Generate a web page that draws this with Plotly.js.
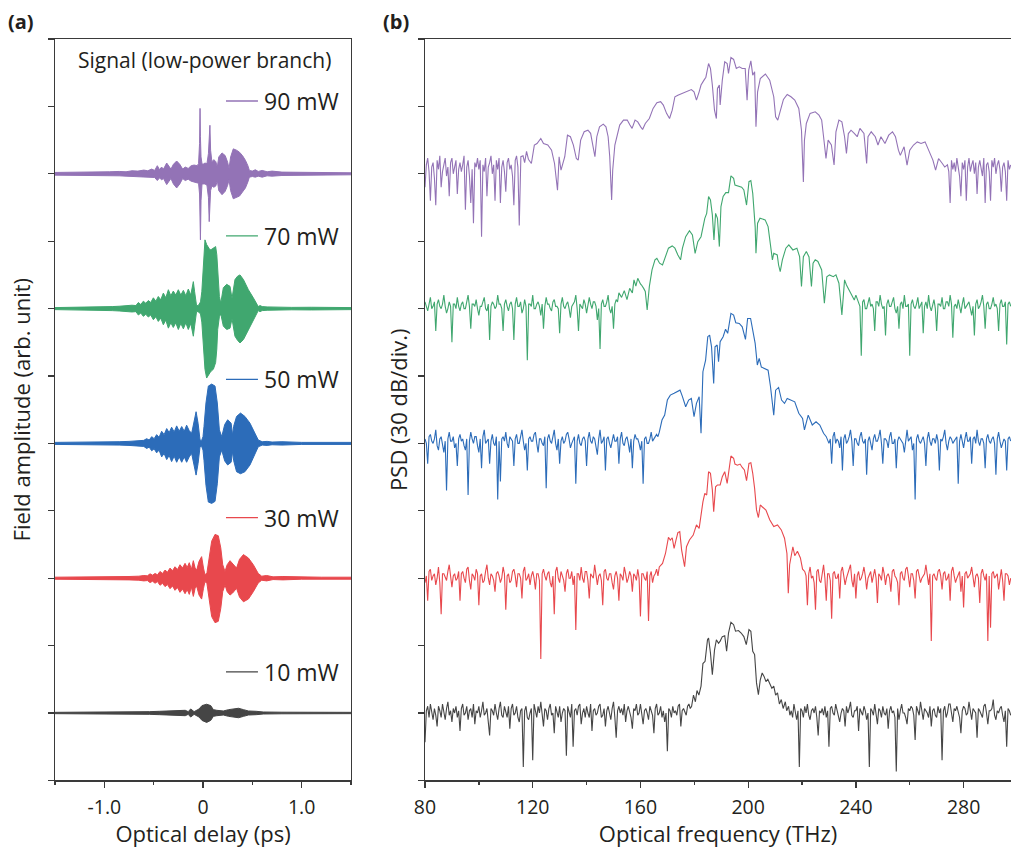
<!DOCTYPE html>
<html><head><meta charset="utf-8">
<script src="https://cdn.plot.ly/plotly-3.0.1.min.js"></script>
<style>html,body{margin:0;padding:0;background:#fff;overflow:hidden}</style>
</head><body><div id="chart" style="width:1011px;height:848px"></div>
<script>
// ---------- Panel (a): field amplitude envelopes (delay in ps, amplitude in tick-divisions) ----------
const powers = ['10 mW','30 mW','50 mW','70 mW','90 mW'];
const colors = ['#454545','#e8484d','#2c6cb9','#40a76f','#9373b6'];

const t10 = [-1.50,-1.10,-0.80,-0.64,-0.54,-0.44,-0.33,-0.23,-0.18,-0.15,-0.125,-0.09,-0.06,-0.04,-0.01,0.037,0.078,0.105,0.14,0.206,0.26,0.31,0.36,0.41,0.46,0.54,0.61,0.80,1.10,1.50];
const up10 = [0.01,0.01,0.012,0.015,0.02,0.025,0.03,0.035,0.04,0.02,0.06,0.02,0.04,0.06,0.11,0.13,0.11,0.05,0.04,0.03,0.05,0.065,0.07,0.05,0.03,0.025,0.015,0.012,0.01,0.01];
const lo10 = [0.01,0.01,0.012,0.015,0.02,0.025,0.03,0.035,0.04,0.02,0.06,0.02,0.04,0.06,0.11,0.14,0.11,0.05,0.04,0.03,0.05,0.065,0.07,0.05,0.03,0.025,0.015,0.012,0.01,0.01];

const t30 = [-1.50,-1.20,-0.90,-0.75,-0.65,-0.60,-0.563,-0.537,-0.511,-0.486,-0.461,-0.436,-0.41,-0.385,-0.36,-0.334,-0.309,-0.284,-0.258,-0.233,-0.208,-0.182,-0.16,-0.139,-0.118,-0.098,-0.08,-0.064,-0.04,-0.014,0.005,0.02,0.04,0.064,0.088,0.122,0.155,0.18,0.20,0.223,0.245,0.274,0.30,0.34,0.37,0.41,0.46,0.51,0.56,0.595,0.645,0.71,0.81,1.00,1.20,1.50];
const up30 = [0.015,0.015,0.02,0.025,0.03,0.04,0.035,0.065,0.045,0.07,0.05,0.10,0.07,0.12,0.09,0.15,0.11,0.17,0.13,0.20,0.15,0.22,0.16,0.23,0.13,0.26,0.15,0.12,0.25,0.32,0.15,0.05,0.08,0.30,0.55,0.65,0.63,0.45,0.20,0.10,0.20,0.26,0.22,0.15,0.28,0.35,0.30,0.20,0.07,0.03,0.04,0.02,0.025,0.015,0.015,0.015];
const lo30 = [0.015,0.015,0.02,0.025,0.03,0.04,0.035,0.065,0.045,0.075,0.05,0.105,0.075,0.125,0.095,0.155,0.115,0.18,0.14,0.21,0.16,0.23,0.17,0.24,0.13,0.27,0.15,0.12,0.25,0.31,0.15,0.05,0.08,0.30,0.57,0.66,0.64,0.45,0.20,0.10,0.20,0.25,0.22,0.15,0.28,0.35,0.31,0.20,0.07,0.03,0.04,0.02,0.025,0.015,0.015,0.015];

const t50 = [-1.50,-1.20,-0.98,-0.85,-0.75,-0.65,-0.60,-0.571,-0.545,-0.52,-0.495,-0.47,-0.445,-0.419,-0.394,-0.368,-0.343,-0.318,-0.292,-0.267,-0.241,-0.216,-0.19,-0.166,-0.14,-0.115,-0.09,-0.07,-0.05,-0.03,-0.015,0.0,0.01,0.03,0.054,0.088,0.122,0.145,0.166,0.19,0.22,0.25,0.285,0.30,0.31,0.34,0.38,0.425,0.476,0.527,0.56,0.60,0.65,0.70,0.80,1.00,1.20,1.50];
const up50 = [0.015,0.015,0.02,0.025,0.03,0.04,0.045,0.07,0.05,0.10,0.07,0.13,0.09,0.18,0.13,0.22,0.16,0.24,0.17,0.26,0.18,0.25,0.18,0.27,0.19,0.15,0.35,0.47,0.30,0.05,0.04,0.10,0.25,0.60,0.85,0.88,0.85,0.60,0.20,0.10,0.28,0.35,0.30,0.12,0.25,0.40,0.45,0.40,0.30,0.15,0.05,0.025,0.03,0.02,0.025,0.015,0.015,0.015];
const lo50 = [0.015,0.015,0.02,0.025,0.03,0.04,0.045,0.075,0.055,0.11,0.08,0.14,0.10,0.20,0.15,0.24,0.18,0.27,0.19,0.28,0.20,0.28,0.20,0.28,0.20,0.15,0.36,0.47,0.30,0.05,0.04,0.10,0.25,0.62,0.87,0.89,0.86,0.60,0.20,0.10,0.26,0.32,0.28,0.12,0.25,0.42,0.45,0.42,0.32,0.16,0.05,0.025,0.03,0.02,0.025,0.015,0.015,0.015];

const t70 = [-1.50,-1.30,-1.10,-1.00,-0.92,-0.85,-0.78,-0.72,-0.68,-0.655,-0.63,-0.605,-0.58,-0.554,-0.53,-0.503,-0.478,-0.453,-0.428,-0.402,-0.377,-0.351,-0.326,-0.301,-0.276,-0.25,-0.225,-0.199,-0.174,-0.149,-0.124,-0.098,-0.085,-0.065,-0.045,-0.025,-0.012,0.003,0.02,0.037,0.055,0.071,0.088,0.105,0.128,0.14,0.149,0.166,0.18,0.206,0.24,0.274,0.294,0.324,0.35,0.375,0.41,0.46,0.51,0.544,0.56,0.578,0.60,0.65,0.75,0.90,1.10,1.30,1.50];
const up70 = [0.015,0.018,0.02,0.025,0.03,0.035,0.045,0.05,0.045,0.09,0.06,0.11,0.08,0.12,0.09,0.16,0.11,0.18,0.13,0.23,0.16,0.28,0.19,0.26,0.2,0.28,0.2,0.27,0.19,0.29,0.2,0.40,0.25,0.04,0.05,0.10,0.25,0.58,1.02,0.95,0.90,0.87,0.88,0.90,0.92,0.80,0.58,0.18,0.08,0.31,0.36,0.33,0.15,0.43,0.48,0.50,0.43,0.28,0.16,0.06,0.03,0.045,0.03,0.025,0.02,0.018,0.02,0.015,0.015];
const lo70 = [0.015,0.018,0.02,0.025,0.03,0.035,0.045,0.05,0.045,0.095,0.065,0.115,0.085,0.125,0.095,0.165,0.12,0.19,0.14,0.24,0.17,0.29,0.21,0.28,0.21,0.31,0.22,0.30,0.21,0.31,0.22,0.41,0.26,0.04,0.05,0.08,0.20,0.56,0.90,1.03,0.98,0.95,0.92,0.90,0.80,0.60,0.31,0.12,0.08,0.26,0.31,0.29,0.15,0.41,0.47,0.51,0.46,0.31,0.17,0.06,0.03,0.045,0.03,0.025,0.02,0.018,0.02,0.015,0.015];

const t90 = [-1.50,-1.30,-1.10,-0.95,-0.85,-0.78,-0.72,-0.66,-0.60,-0.56,-0.52,-0.49,-0.463,-0.44,-0.42,-0.40,-0.368,-0.34,-0.325,-0.30,-0.267,-0.235,-0.206,-0.18,-0.15,-0.12,-0.09,-0.06,-0.045,-0.035,-0.030,-0.026,-0.020,-0.010,0.0,0.02,0.04,0.055,0.063,0.070,0.077,0.09,0.11,0.13,0.145,0.16,0.193,0.225,0.25,0.264,0.28,0.307,0.34,0.37,0.40,0.43,0.455,0.47,0.50,0.53,0.56,0.60,0.65,0.70,0.80,1.00,1.20,1.50];
const up90 = [0.02,0.02,0.025,0.03,0.035,0.03,0.045,0.04,0.055,0.045,0.07,0.05,0.12,0.06,0.10,0.07,0.16,0.10,0.07,0.14,0.19,0.14,0.07,0.10,0.08,0.12,0.13,0.12,0.15,0.45,0.97,0.55,0.25,0.15,0.14,0.16,0.15,0.30,0.55,0.72,0.35,0.18,0.21,0.18,0.10,0.25,0.31,0.27,0.17,0.08,0.25,0.37,0.35,0.32,0.27,0.20,0.12,0.05,0.04,0.06,0.035,0.05,0.03,0.04,0.025,0.02,0.02,0.015];
const lo90 = [0.02,0.02,0.025,0.03,0.03,0.035,0.04,0.045,0.05,0.05,0.06,0.055,0.10,0.06,0.09,0.07,0.16,0.10,0.07,0.15,0.21,0.15,0.07,0.10,0.08,0.11,0.12,0.13,0.14,0.30,0.55,0.98,0.40,0.15,0.15,0.15,0.17,0.35,0.71,0.45,0.25,0.18,0.20,0.18,0.10,0.25,0.31,0.26,0.17,0.09,0.25,0.37,0.35,0.33,0.27,0.21,0.12,0.05,0.04,0.05,0.035,0.05,0.03,0.035,0.025,0.02,0.02,0.015];

const fieldBase = [1,3,5,7,9];

// ---------- Panel (b): PSD in dB relative to each trace's noise floor ----------
const psdBase = [30,90,150,210,270];   // 60 dB offset between traces (30 dB per division)
const noiseStep = 0.5;                 // THz between noise-floor samples

// 10 mW
const n10L_start = 80;
const n10L = [-13,1,3,-2,4,0,-3,2,-1,-6,3,1,-2,4,0,-3,2,5,-1,1,
  -4,2,0,3,-2,1,-8,2,4,-1,0,3,-3,1,2,-2,4,-5,1,0,
  3,-2,1,5,-1,0,2,-3,-10,2,1,-1,4,0,-3,2,5,-1,-2,3,
  0,-2,3,-7,2,4,-1,0,3,-2,-4,1,2,-24,1,3,-2,-3,0,2,
  -21,4,1,-2,3,0,5,-1,-6,2,1,-3,2,4,-1,0,-9,3,1,-2,
  3,-4,0,2,1,-19,3,0,-2,4,-15,1,2,-1,3,4,-5,0,2,-2,
  3,0,-2,4,-8,1,2,-1,0,3,4,-2,-1,2,-6,1,3,0,-3,2,
  5,-2,-11,1,3,0,2,-1,4,-4,1,3,0,-2,-7,2,1,4,-1,0,
  4,-2,-5,1,2,0,-3,3,1,-1,-9,2,4,-1,0,3,-2,1,-4,0,
  -17,2,1,-2,3,0,1,-1,3,4,-6,1,2,0,-1,3,4,2];
const f10 = [179,179.7,180.4,181,181.7,182.5,183.2,184,184.9,185.3,186,186.7,187.5,188.2,189,189.6,190.4,191.3,192,192.7,193.6,194.6,195.3,196.4,197.4,198.4,199.3,200.3,201,201.7,202.4,203.1,203.8,204.5,205.2,205.9,206.6,207.3,208,208.8,209.5,210.2,210.9,211.6,212.3,213,213.8,214.3];
const d10 = [3,8,5,10,8,12,22,23,32.6,33.4,26.7,17,28,32.6,31,32,34,34.4,27.5,35.6,40.4,39.3,36.4,36.7,35.6,34,30.4,37.1,36.4,27.5,26,13.4,8.2,14.8,17.8,16.3,14,15,13.4,11,12,8,9,4,6,2,5,1];
const n10R_start = 215;
const n10R = [3,-1,1,-2,4,0,-3,1,-24,2,1,-2,3,0,4,-1,-3,1,2,0,
  3,-2,-10,1,0,2,-1,3,-2,1,-15,2,3,0,-1,4,1,-2,-4,0,
  2,1,-6,3,0,2,5,-1,-2,1,1,3,-8,2,0,-1,3,1,-3,0,
  -24,2,1,-1,4,0,-5,2,1,-2,3,0,-1,2,-7,1,3,0,1,-2,
  -26,2,-3,1,4,0,0,-2,-5,2,1,3,2,-1,-12,3,1,-1,5,0,
  -3,2,1,0,-2,3,-6,1,2,-1,-2,3,0,2,-21,1,3,-2,0,4,
  4,-1,-4,2,1,3,0,-2,-9,1,3,2,-1,0,5,1,-3,2,1,0,
  -11,2,1,-1,-2,3,4,0,-5,1,1,2,6,-1,-3,1,0,2,3,-1,
  -4,1,-15,2,1,-1];

// 30 mW
const n30L_start = 80;
const n30L = [-2,1,-10,3,4,-1,1,2,-3,0,5,-2,-16,2,2,0,-1,3,6,1,
  -4,1,2,-1,0,3,-10,2,3,0,-2,4,5,-1,-5,2,1,-1,4,2,
  -12,1,2,-2,-1,3,6,0,-3,2,1,-1,-6,2,3,1,-2,0,5,2,
  -14,1,2,-2,-1,3,4,1,-4,2,2,0,-9,3,5,-1,0,2,-3,1,
  3,0,-5,2,2,-1,-36,2,4,1,-1,2,3,-2,-4,1,-16,3,5,0,
  -2,3,1,-1,-6,2,4,0,0,3,-3,1,-23,2,2,-1,5,0,-2,3,
  3,-1,-9,2,1,0,6,2,-3,1,2,-1,-12,3,4,0,-1,2,2,-2,
  -5,1,3,0,-10,2,1,-1,5,2,-2,0,3,1,-6,2,1,-1,4,0,
  -17,2,2,0,-1,3,-19,1,3,-2,1,2,4,1];
const f30 = [167,168.2,169.3,170.4,171.1,171.8,172.5,173.2,173.9,174.6,175.3,176.4,177.1,178.2,179.6,180.8,181.8,183.2,183.9,184.6,185.3,186,186.7,187.2,187.9,188.6,189.6,190.4,191.3,192.2,192.9,193.6,194.6,195.1,196,197,197.8,198.6,199.4,200.3,201,201.7,202.4,203.1,203.8,204.5,205.2,206.6,208,209.5,210.9,212.3,213.5,214.4,214.9,215.4,216.6,217.3,218.3,219.4,220.2];
const d30 = [5,6.6,11,18.2,17,18,13.3,17,20.3,20.7,12.5,5.1,14,17,19.2,23.7,22.2,34,37.8,37,47.4,46.7,39.3,29.6,40.7,41.5,41.5,45.2,47.4,42.2,48.9,54.4,53.4,50.8,50.3,50.8,49.3,48.2,43.4,51.1,51.4,46.7,40,30.4,27,32.6,31.8,30.3,26,23,23.7,21.5,17.8,11,-6.7,6,14,10,12,9,4];
const n30R_start = 221;
const n30R = [3,1,-12,2,5,0,1,-2,-14,3,4,-1,-2,2,6,0,-10,2,2,-1,
  -18,2,3,0,0,2,-9,3,5,1,-3,0,2,4,6,-1,-4,2,-9,1,
  3,-1,0,2,5,1,-5,0,2,3,-2,1,4,0,-11,2,1,-1,5,2,
  -3,1,2,0,-6,3,4,1,0,-2,-12,2,3,0,-1,4,5,1,-4,2,
  2,-1,-9,3,4,1,-2,0,1,2,6,0,-3,2,-28,1,2,0,-1,3,
  4,1,-5,2,3,-1,0,2,-10,3,5,1,-2,0,2,3,-6,1,-13,2,
  3,0,1,2,5,-1,-4,1,2,0,-11,2,4,1,-1,2,-28,1,-22,2,
  3,0,1,2,-5,1,4,-1,-10,2,2,1,-3,0];

// 50 mW
const n50L_start = 80;
const n50L = [2,0,-9,3,4,1,0,2,6,-1,-3,2,3,0,-4,1,-21,2,5,1,
  1,3,-2,0,-10,2,4,1,2,-1,-3,2,-23,1,5,2,0,3,3,-1,
  -4,2,-11,3,6,0,1,2,-9,1,4,0,-1,3,-25,1,-17,2,3,1,
  5,0,-2,3,2,1,-10,2,4,0,0,3,6,1,-3,0,-12,2,3,1,
  1,4,5,0,-4,2,2,0,-1,3,-20,2,4,1,0,3,6,0,-3,2,
  -9,1,3,0,1,4,5,2,-2,0,2,3,-18,1,4,0,-1,2,3,1,
  -10,2,5,1,0,3,2,-1,-5,2,6,0,1,3,-12,2,3,0,-2,1,
  4,1,1,3,-9,2,5,0,-1,2,3,0,-4,2,-11,1,4,2,2,0,
  -3,1,-18,2,3,0,0,2,5,1,2,3,4,3];
const f50 = [167,168,169,170,171.1,172.5,173.9,174.7,175.6,176.8,177.9,178.9,179.9,180.8,181.8,182.5,183.2,184.2,185,185.7,186.4,187.2,187.7,188.5,189,189.6,190.7,191.6,192.4,193.6,194.6,195.4,196.7,197.8,199,199.8,200.9,201.8,202.6,203.4,204.1,204.9,205.9,207.4,208.3,209.5,210.2,211.3,212.4,213.5,214.5,215.9,217.3,218.8,220.2,220.9,222.3,223.8,225.2,226.6,228];
const d50 = [5,10.4,12.6,19.3,21.5,22.3,23,23.7,20.8,16.3,19.3,20,11.9,17.8,20.8,4.5,31.9,37.1,47.5,48.2,43,26.7,43,43.8,36.4,45.3,47.5,50.8,49,57.9,57.1,53.7,53.4,51.9,46.3,55.6,55.6,50.5,44.5,34.9,37.8,34,33.4,32.6,25.2,12.6,23.7,24.9,19.3,17.8,20,19.3,18.5,13.4,11.1,6,12.6,8.2,9.6,8.2,4.5];
const n50R_start = 229;
const n50R = [3,1,0,2,-9,3,5,0,2,1,-2,3,-12,2,4,0,1,3,6,1,
  -10,2,2,0,-1,3,5,1,0,2,-14,1,3,0,-3,2,4,1,1,3,
  6,0,-9,2,2,1,-2,3,5,0,0,2,-11,1,3,2,1,0,-4,2,
  6,1,2,3,-3,0,-25,2,4,1,0,2,3,0,-10,2,5,1,-1,2,
  2,0,4,1,-12,2,1,3,6,0,-3,1,3,2,0,1,2,3,-18,1,
  4,0,-2,2,5,1,1,3,-9,2,3,0,6,1,-1,2,2,0,-11,2,
  4,1,0,2,3,0,-14,2,5,1,-2,0,2,1,-12,2,3,1];

// 70 mW
const n70L_start = 80;
const n70L = [3,1,-1,2,5,0,1,3,-10,2,4,1,0,2,6,1,-2,0,3,1,
  -15,2,2,0,5,1,-1,2,3,0,0,3,6,1,-9,2,2,1,4,0,
  -3,1,1,3,5,0,-1,2,-14,1,3,2,0,1,6,2,2,0,-10,2,
  4,1,-1,2,3,0,-14,2,5,1,1,3,-2,0,4,1,-23,2,2,1,
  6,0,0,2,3,1,-3,2,-9,1,5,2,2,0,-1,3,4,1,1,0,
  -11,2,5,1,0,2,3,0,-4,1,2,3,6,0,-10,2,1,0,4,2,
  -2,1,5,2,0,3,3,1,-5,0,-18,2,4,1,1,3,6,0,-2,1,
  -9,2,4,3];
const f70 = [152,153,154,155,156,157,157.6,158.3,159,160,160.4,161.2,161.8,162.5,163.3,164.3,165.4,166.1,167.1,168.2,169.4,170.4,171.8,172.8,173.9,174.9,175.6,176.8,178.2,179.3,180.3,181.3,182.5,183.2,183.9,184.6,185.3,186,186.7,187.3,187.9,188.6,189.3,189.9,190.7,191.7,192.7,193.6,194.6,195.1,196.3,197.6,198.4,199.4,200.3,201,201.7,202.6,202.9,203.5,204.4,205.2,206.3,207.4,208.4,209,209.5,210.8,211.3,211.9,212.7,214,215.1,216.1,216.6,218.1,219.1,219.8,220.5,221.6,222.6,223.5,224.1,224.9,225.9,227.3,228.3,229.2,230.2,231.6,232.6,233.7,234.8,235.8,236.5,238,239.4,240];
const d70 = [7,5,8,4,9,7,12.8,10,13.5,11,10.5,9,7.6,-0.6,9.8,17.2,21.7,22.4,20.2,19.4,23.1,26.9,27.9,26.9,23.9,21.7,26.9,32,34.7,32.8,24.6,29.8,32,36.5,40.2,42.4,49.9,48.4,41.7,30.6,42.4,40.2,27.6,45.4,49.9,51.6,51.6,59.1,58,55,54.6,54,52.8,46.1,56.5,57,51.3,36.5,24.6,38,40.2,39.8,39.5,36.5,26.1,21.7,24.6,23.9,19.4,16.5,21.7,26.9,28.4,26.9,26.1,26.9,23.1,9.8,23.1,25.4,23,9.8,20.2,21.7,21,17.2,2.4,14.2,15,14.2,15,11.3,-2.8,12.8,10.5,7,3.8,6];
const n70R_start = 241;
const n70R = [2,1,-21,3,4,0,0,2,5,1,2,0,-10,3,3,1,6,2,0,1,
  -12,2,4,1,1,3,5,0,-2,1,-9,2,3,0,6,1,1,2,-21,2,
  4,1,0,2,5,0,2,3,-11,1,3,0,6,1,-1,2,4,0,-10,2,
  2,1,5,0,0,3,3,1,6,2,-13,1,2,0,4,1,-2,2,5,0,
  1,2,3,0,-3,1,-12,2,4,0,1,3,6,1,-9,2,3,0,0,2,
  5,1,2,0,-10,2,4,1,1,3,-16,2,3,1];

// 90 mW
const n90L_start = 80;
const n90L = [-6,4,7,1,-12,3,5,-2,-14,6,2,8,-6,1,4,7,-1,3,-10,5,
  7,0,3,6,-9,2,5,1,4,8,-16,3,6,-1,-13,2,-22,5,3,7,
  2,6,-28,4,1,7,-10,3,5,8,0,4,-12,6,2,7,-13,3,6,1,
  -8,5,7,2,4,-1,-14,6,8,3,-23,6];
const f90 = [115.6,116.4,117,117.7,118.4,119.5,120.6,121.6,123,124,125.6,127,128.1,129.2,129.8,130.5,131.2,131.9,132.9,134,135.1,136.2,136.9,137.8,139.1,140.5,141.5,142.3,143.1,143.8,144.8,146.2,147.2,148,148.6,149.3,149.7,150.5,151.2,152.3,153.7,155.1,156.1,156.9,158,159,160.1,160.8,161.8,163.3,164.7,166.1,167.5,168.5,169.7,170.8,171.8,172.8,173.9,175.6,177.5,178.9,179.9,180.8,181.8,182.5,183.6,184.3,185.3,186,186.7,187.5,188.2,188.6,189.3,189.6,190.4,191.3,192.2,192.7,193.6,194.6,195.6,196.7,197.8,198.9,199.6,200.2,201,201.7,202.4,202.9,203.5,204.5,206.4,208,209.5,210.2,211,212,213.1,214.5,215.9,217.3,218.8,219.8,220.5,220.9,221.6,223,224.9,226.3,227.3,228,228.9,229.7,230.9,231.9,232.6,233.7,234.8,235.8,236.5,237.2,238.2,239.4,240.5,241.5,243,244,244.5,245.7,247.2,248.2,249.3,250.8,252.2,253.6,254.7,255.8,256.5,257.9,259,260,261.4,262.8,264.2,265.7,267.1,268.6,269.6,270.7,272.1,273];
const d90 = [7.6,8,5,10,6.5,4.6,12.8,13.5,15.7,13.5,12.8,10.5,4.6,-7.3,7.6,1.6,4.6,7.6,17.2,16.5,12.8,6.8,6.1,15,18.7,19.4,18,12.8,7.6,16.5,20.9,22.1,20.9,16.5,7.6,-11.7,1.6,12.8,16.5,21.7,23.9,23.9,21.7,20.2,23.9,23.1,20.9,19.7,22.4,24.6,29.1,31.6,32.1,30.6,26.9,24.6,28.3,34.3,35,35.8,37,37.5,36.5,32.8,36.5,39.5,41.7,43,49.1,46.9,39.5,28.3,24.6,38,39.5,30.6,41.7,49.9,49.1,44.7,51.8,50.9,46.9,47.6,46.9,46.9,32.8,46.2,50.3,43.9,45.4,20.9,36.5,42.4,44.4,41.7,34.3,25.4,23.9,28.3,33.1,35.3,34.3,32.8,29.1,19.4,-3.6,15,22.4,26.9,27.6,26.1,23.9,16.5,6.8,15,12.8,3.9,18.7,23.9,23.1,16.5,9.1,17.9,19.4,18,16.5,20.2,18,4.6,16.5,18.7,16.5,12.8,16.5,13.5,17.2,18.7,16.5,10.5,8.2,12,3.9,10.5,12.8,14.2,13.5,14.2,10.5,6.1,1.6,6.8,4.6,3];
const n90R_start = 274;
const n90R = [4,1,-13,6,2,5,1,7,3,-1,-10,5,2,6,-12,3,7,1,4,6,
  0,5,-9,3,6,2,-1,7,-13,4,5,1,-12,6,3,7,0,4,6,2,
  -8,3,5,1,-12,6,2,4];

// ---------- build traces ----------
const env = [[t10,up10,lo10],[t30,up30,lo30],[t50,up50,lo50],[t70,up70,lo70],[t90,up90,lo90]];
const psd = [
  [n10L_start,n10L,f10,d10,n10R_start,n10R],
  [n30L_start,n30L,f30,d30,n30R_start,n30R],
  [n50L_start,n50L,f50,d50,n50R_start,n50R],
  [n70L_start,n70L,f70,d70,n70R_start,n70R],
  [n90L_start,n90L,f90,d90,n90R_start,n90R]
];
const traces = [];
env.forEach((e,k)=>{
  const [t,up,lo] = e, b = fieldBase[k], c = colors[k];
  traces.push({x:t, y:t.map((_,i)=>b+up[i]), xaxis:'x', yaxis:'y', mode:'lines',
    line:{color:c,width:1}, hoverinfo:'skip', showlegend:false, name:powers[k]});
  traces.push({x:t, y:t.map((_,i)=>b-lo[i]), xaxis:'x', yaxis:'y', mode:'lines',
    line:{color:c,width:1}, fill:'tonexty', fillcolor:c, hoverinfo:'skip', showlegend:false, name:powers[k]});
});
psd.forEach((p,k)=>{
  const [ls,l,f,d,rs,r] = p, b = psdBase[k];
  const x=[], y=[];
  l.forEach((v,i)=>{x.push(ls+noiseStep*i); y.push(b+v);});
  f.forEach((v,i)=>{x.push(v); y.push(b+d[i]);});
  r.forEach((v,i)=>{x.push(rs+noiseStep*i); y.push(b+v);});
  traces.push({x, y, xaxis:'x2', yaxis:'y2', mode:'lines', line:{color:colors[k],width:1.1},
    hoverinfo:'skip', showlegend:false, name:powers[k]});
});

// ---------- layout ----------
const FONT = '"Open Sans", "Noto Sans", "DejaVu Sans", sans-serif';
const TXT = '#231f20';
const AX = '#3a3a3a';
const FS_TICK = 19.5, FS_TITLE = 22, FS_LEG = 23, FS_NOTE = 21;
const yDom = [(848-780.4)/848, (848-39)/848];
const legendY = [1.61,3.9,5.95,8.08,10.08];

const shapes = legendY.map((yy,k)=>({type:'line', xref:'x', yref:'y', x0:0.233, x1:0.557, y0:yy, y1:yy,
  line:{color:colors[k], width:1.3}}));
const annotations = legendY.map((yy,k)=>({xref:'x', yref:'y', x:0.598, y:yy, text:powers[k],
  showarrow:false, xanchor:'left', yanchor:'middle', font:{size:FS_LEG, color:TXT, family:FONT}}));
annotations.push({xref:'paper', yref:'paper', x:6/1011, y:(848-21)/848, text:'<b>(a)</b>', showarrow:false,
  xanchor:'left', yanchor:'middle', font:{size:20, color:TXT, family:FONT}});
annotations.push({xref:'paper', yref:'paper', x:381/1011, y:(848-21)/848, text:'<b>(b)</b>', showarrow:false,
  xanchor:'left', yanchor:'middle', font:{size:20, color:TXT, family:FONT}});
annotations.push({xref:'paper', yref:'paper', x:204.5/1011, y:(848-60)/848, text:'Signal (low-power branch)', showarrow:false,
  xanchor:'center', yanchor:'middle', font:{size:FS_NOTE, color:TXT, family:FONT}});

const axCommon = {showline:true, linecolor:AX, linewidth:1.3, ticks:'outside', tickcolor:AX, tickwidth:1.3,
  showgrid:false, zeroline:false, tickfont:{size:FS_TICK, color:TXT, family:FONT}, fixedrange:true};

const layout = {
  width:1011, height:848, margin:{l:0,r:0,t:0,b:0}, paper_bgcolor:'#fff', plot_bgcolor:'#fff',
  font:{family:FONT, color:TXT},
  showlegend:false,
  xaxis: Object.assign({}, axCommon, {domain:[55/1011, 351/1011], range:[-1.5,1.5], anchor:'y', mirror:true,
    tickmode:'array', tickvals:[-1,0,1], ticktext:['-1.0','0','1.0'], ticklen:6, ticklabelstandoff:3,
    minor:{tickmode:'array', tickvals:[-1.5,-0.5,0.5,1.5], ticks:'outside', ticklen:3, tickcolor:AX, tickwidth:1.3, showgrid:false},
    title:{text:'Optical delay (ps)', font:{size:FS_TITLE, color:TXT, family:FONT}, standoff:17}}),
  yaxis: Object.assign({}, axCommon, {domain:yDom, range:[0,11], anchor:'x', mirror:true,
    tickmode:'array', tickvals:[0,1,2,3,4,5,6,7,8,9,10,11], showticklabels:false, ticklen:6,
    title:{text:'Field amplitude (arb. unit)', font:{size:FS_TITLE, color:TXT, family:FONT}, standoff:11}}),
  xaxis2: Object.assign({}, axCommon, {domain:[425/1011, 1], range:[80,297.6], anchor:'y2', mirror:true,
    tickmode:'array', tickvals:[80,120,160,200,240,280], ticklen:6, ticklabelstandoff:3,
    minor:{tickmode:'array', tickvals:[100,140,180,220,260], ticks:'outside', ticklen:3, tickcolor:AX, tickwidth:1.3, showgrid:false},
    title:{text:'Optical frequency (THz)', font:{size:FS_TITLE, color:TXT, family:FONT}, standoff:17}}),
  yaxis2: Object.assign({}, axCommon, {domain:yDom, range:[0,330], anchor:'x2', mirror:false,
    tickmode:'array', tickvals:[0,30,60,90,120,150,180,210,240,270,300,330], showticklabels:false, ticklen:6,
    title:{text:'PSD (30 dB/div.)', font:{size:FS_TITLE, color:TXT, family:FONT}, standoff:4}}),
  shapes, annotations
};

Plotly.newPlot('chart', traces, layout, {staticPlot:true, displayModeBar:false});
</script></body></html>
